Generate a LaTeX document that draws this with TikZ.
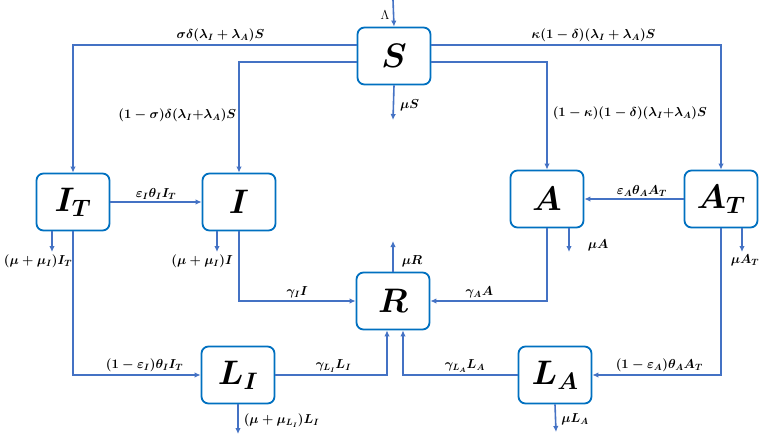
\documentclass[tikz,border=0pt]{standalone}
\usepackage{fix-cm}
\usetikzlibrary{arrows.meta}
\definecolor{boxblue}{RGB}{0,112,192}
\definecolor{lineblue}{RGB}{68,114,196}
\begin{document}
\begin{tikzpicture}[x=1pt, y=-1pt,
    box/.style={draw=boxblue, line width=1.8pt, rounded corners=7pt, fill=white,
                minimum width=73pt, minimum height=57pt,
                font=\fontsize{34}{38}\selectfont\boldmath},
    flow/.style={draw=lineblue, line width=1.6pt, -{Latex[length=6pt,width=5.5pt]}},
    rate/.style={font=\fontsize{13}{15}\selectfont\boldmath, inner sep=2pt}]
  \useasboundingbox (0,0) rectangle (762,436);
  % compartments
  \node[box] (S)  at (394,56)  {$S$};
  \node[box] (IT) at (73,202)  {$I_T$};
  \node[box] (I)  at (239,202) {$I$};
  \node[box] (A)  at (547,199) {$A$};
  \node[box] (AT) at (721,199) {$A_T$};
  \node[box] (R)  at (393,301) {$R$};
  \node[box] (LI) at (238,375) {$L_I$};
  \node[box] (LA) at (555,375) {$L_A$};
  % free ends
  \coordinate (in)  at (393,0);
  \coordinate (dS)  at (393,120);
  \coordinate (dIT) at (52,252);
  \coordinate (dI)  at (217,252);
  \coordinate (dA)  at (569,252);
  \coordinate (dAT) at (742,252);
  \coordinate (dR)  at (393,241);
  \coordinate (dLI) at (238,434);
  \coordinate (dLA) at (556,432);
  % flows out of S
  \draw[flow] (in) -- (S.north)
    node[pos=0.55, left, font=\fontsize{13}{15}\selectfont] {$\Lambda$};
  \draw[flow] (S.south) -- (dS) node[rate, pos=0.57, right, xshift=4pt] {$\mu S$};
  \draw[flow] ([yshift=11pt]S.west) -| (IT.north)
    node[rate, pos=0.24, above] {$\sigma\delta(\lambda_I + \lambda_A)S$};
  \draw[flow] ([yshift=-6pt]S.west) -| (I.north)
    node[rate, pos=0.74, left] {$(1-\sigma)\delta(\lambda_I{+}\lambda_A)S$};
  \draw[flow] ([yshift=11pt]S.east) -| (AT.north)
    node[rate, pos=0.28, above] {$\kappa(1-\delta)(\lambda_I + \lambda_A)S$};
  \draw[flow] ([yshift=-6pt]S.east) -| (A.north)
    node[rate, pos=0.74, right, xshift=3pt] {$(1-\kappa)(1-\delta)(\lambda_I{+}\lambda_A)S$};
  % treated to untreated
  \draw[flow] (IT) -- (I) node[rate, midway, above] {$\varepsilon_I\theta_I I_T$};
  \draw[flow] (AT) -- (A) node[rate, pos=0.42, above] {$\varepsilon_A\theta_A A_T$};
  % deaths
  \draw[flow] (IT.south -| dIT) -- (dIT) node[rate, below, xshift=-14pt] {$(\mu+\mu_I)I_T$};
  \draw[flow] (I.south -| dI) -- (dI) node[rate, below, xshift=-15pt] {$(\mu+\mu_I)I$};
  \draw[flow] (A.south -| dA) -- (dA) node[rate, pos=0.7, right, xshift=16pt] {$\mu A$};
  \draw[flow] (AT.south -| dAT) -- (dAT) node[rate, below, xshift=3pt] {$\mu A_T$};
  \draw[flow] (R.north) -- (dR) node[rate, pos=0.34, right, xshift=6pt] {$\mu R$};
  \draw[flow] (LI.south) -- (dLI) node[rate, pos=0.55, right, xshift=3pt] {$(\mu+\mu_{L_I})L_I$};
  \draw[flow] (LA.south) -- (dLA) node[rate, pos=0.55, right, xshift=3pt] {$\mu L_A$};
  % into latent
  \draw[flow] (IT.south) |- (LI.west) node[rate, pos=0.78, above] {$(1-\varepsilon_I)\theta_I I_T$};
  \draw[flow] (AT.south) |- (LA.east) node[rate, pos=0.74, above] {$(1-\varepsilon_A)\theta_A A_T$};
  % recovery
  \draw[flow] (I.south) |- (R.west) node[rate, pos=0.75, above] {$\gamma_I I$};
  \draw[flow] (A.south) |- (R.east) node[rate, pos=0.79, above] {$\gamma_A A$};
  \draw[flow] (LI.east) -| ([xshift=-6pt]R.south) node[rate, pos=0.26, above] {$\gamma_{L_I}L_I$};
  \draw[flow] (LA.west) -| ([xshift=10pt]R.south) node[rate, pos=0.23, above] {$\gamma_{L_A}L_A$};
\end{tikzpicture}
\end{document}
